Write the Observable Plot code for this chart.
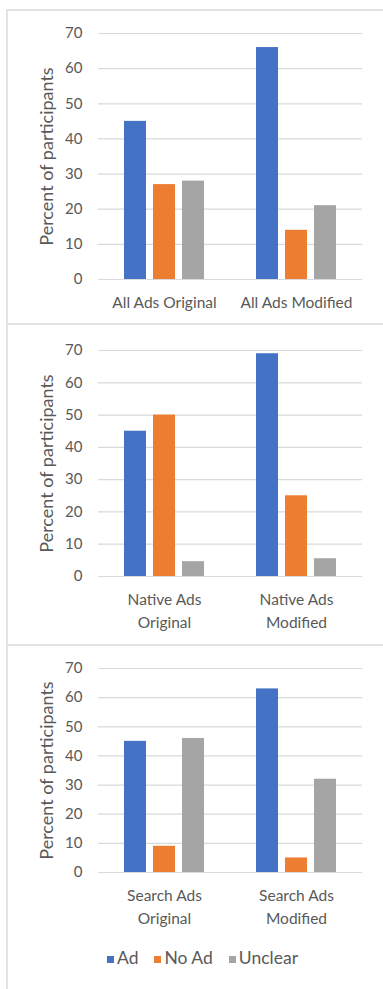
<!DOCTYPE html>
<html>
<head>
<meta charset="utf-8">
<script src="https://cdn.jsdelivr.net/npm/d3@7"></script>
<script src="https://cdn.jsdelivr.net/npm/@observablehq/plot@0.6"></script>
<style>
  html, body { margin: 0; padding: 0; background: #fff; }
  #page { position: relative; width: 383px; height: 989px; overflow: hidden; font-family: Lato, "Open Sans", sans-serif; }
  .hline { position: absolute; left: 6px; right: 0; height: 2px; background: #e3e3e3; }
  .vline { position: absolute; left: 6px; top: 9px; bottom: 0; width: 2px; background: #e3e3e3; }
  .panel { position: absolute; left: 0; }
  #legend { position: absolute; top: 947px; left: 107px; display: flex; align-items: center; font-size: 17.5px; color: #595959; line-height: 22px; }
  #legend .item { display: flex; align-items: center; margin-right: 16px; }
  #legend .sw { width: 7px; height: 7px; margin-right: 3px; margin-top: 3px; }
</style>
</head>
<body>
<div id="page">
  <div class="hline" style="top:9px"></div>
  <div class="hline" style="top:323px"></div>
  <div class="hline" style="top:644px"></div>
  <div class="vline"></div>
  <div class="panel" id="p1" style="top:11px"></div>
  <div class="panel" id="p2" style="top:325px"></div>
  <div class="panel" id="p3" style="top:646px"></div>
  <div id="legend"></div>
</div>
<script>
const series = ["Ad", "No Ad", "Unclear"];
const seriesColors = ["#4472C4", "#ED7D31", "#A5A5A5"];
const yTicks = [0, 10, 20, 30, 40, 50, 60, 70];
const yLabel = "Percent of participants";

const allAdsCategories = ["All Ads Original", "All Ads Modified"];
const allAdsAd = [45, 66];
const allAdsNoAd = [27, 14];
const allAdsUnclear = [28, 21];

const nativeAdsCategories = ["Native Ads\nOriginal", "Native Ads\nModified"];
const nativeAdsAd = [45, 69];
const nativeAdsNoAd = [50, 25];
const nativeAdsUnclear = [4.6, 5.5];

const searchAdsCategories = ["Search Ads\nOriginal", "Search Ads\nModified"];
const searchAdsAd = [45, 63];
const searchAdsNoAd = [9, 5];
const searchAdsUnclear = [46, 32];

function table(cats, a, n, u) {
  const rows = [];
  cats.forEach((c, i) => {
    rows.push({cat: c, series: series[0], value: a[i]});
    rows.push({cat: c, series: series[1], value: n[i]});
    rows.push({cat: c, series: series[2], value: u[i]});
  });
  return rows;
}

function panel(cats, rows, height, marginTop, marginBottom) {
  return Plot.plot({
    width: 383,
    height,
    marginLeft: 98,
    marginRight: 21,
    marginTop,
    marginBottom,
    style: {fontFamily: "Lato, 'Open Sans', sans-serif", fontSize: "15px", color: "#595959", background: "transparent", overflow: "visible"},
    fx: {domain: cats, padding: 0, label: null, axis: null},
    x: {domain: series, axis: null, paddingInner: 0.25, paddingOuter: 0.86},
    y: {domain: [0, 70], ticks: yTicks, axis: null},
    color: {domain: series, range: seriesColors},
    marks: [
      Plot.gridY(yTicks, {stroke: "#d9d9d9", strokeOpacity: 1, strokeWidth: 1.2}),
      Plot.axisY(yTicks, {tickSize: 0, tickPadding: 16, label: null, fontSize: 15, fill: "#595959"}),
      Plot.axisY(yTicks, {tickSize: 0, tickFormat: () => "", label: yLabel, labelArrow: "none", labelAnchor: "center", labelOffset: 58, fontSize: 18, fill: "#595959"}),
      Plot.axisFx({anchor: "bottom", tickSize: 0, tickPadding: 13, label: null, fontSize: 15.5, lineHeight: 1.45, fill: "#595959"}),
      Plot.barY(rows, {fx: "cat", x: "series", y: "value", fill: "series"})
    ]
  });
}

document.getElementById("p1").appendChild(panel(allAdsCategories, table(allAdsCategories, allAdsAd, allAdsNoAd, allAdsUnclear), 312, 22, 44));
document.getElementById("p2").appendChild(panel(nativeAdsCategories, table(nativeAdsCategories, nativeAdsAd, nativeAdsNoAd, nativeAdsUnclear), 319, 25, 68));
document.getElementById("p3").appendChild(panel(searchAdsCategories, table(searchAdsCategories, searchAdsAd, searchAdsNoAd, searchAdsUnclear), 290, 22, 64));

const legend = document.getElementById("legend");
series.forEach((s, i) => {
  const item = document.createElement("div");
  item.className = "item";
  const sw = document.createElement("span");
  sw.className = "sw";
  sw.style.background = seriesColors[i];
  const t = document.createElement("span");
  t.textContent = s;
  item.appendChild(sw);
  item.appendChild(t);
  legend.appendChild(item);
});
</script>
</body>
</html>
